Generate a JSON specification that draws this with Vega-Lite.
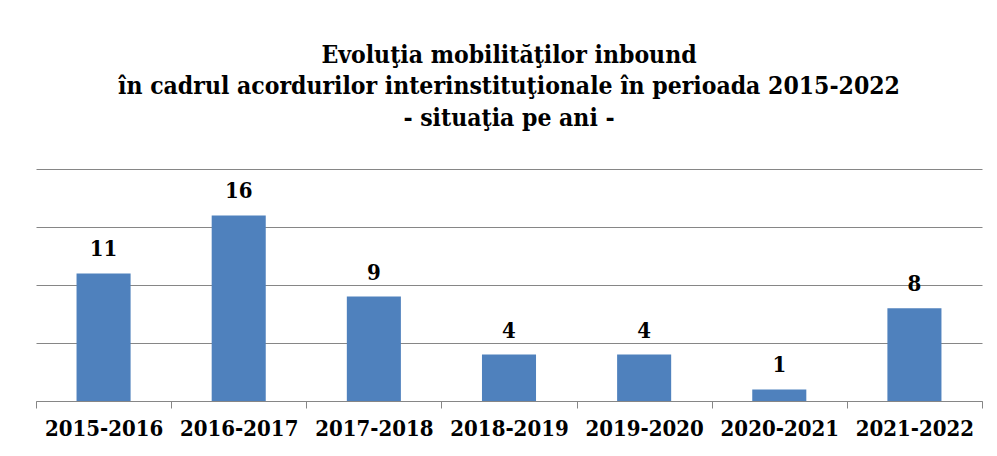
{
  "$schema": "https://vega.github.io/schema/vega-lite/v6.json",
  "autosize": "none",
  "width": 946,
  "height": 232,
  "padding": {"left": 36, "top": 169, "right": 15, "bottom": 55},
  "background": "white",
  "title": {
    "text": ["Evoluţia mobilităţilor inbound", "în cadrul acordurilor interinstituţionale în perioada 2015-2022", "- situaţia pe ani -"],
    "font": "DejaVu Serif Condensed",
    "fontSize": 24.5,
    "fontWeight": "bold",
    "color": "black",
    "lineHeight": 31.5,
    "anchor": "middle",
    "offset": 38
  },
  "data": {
    "values": [
      {"an": "2015-2016", "valoare": 11},
      {"an": "2016-2017", "valoare": 16},
      {"an": "2017-2018", "valoare": 9},
      {"an": "2018-2019", "valoare": 4},
      {"an": "2019-2020", "valoare": 4},
      {"an": "2020-2021", "valoare": 1},
      {"an": "2021-2022", "valoare": 8}
    ]
  },
  "encoding": {
    "x": {
      "field": "an",
      "type": "nominal",
      "sort": null,
      "scale": {"paddingInner": 0, "paddingOuter": 0},
      "axis": {
        "title": null,
        "labelAngle": 0,
        "labelFont": "DejaVu Serif Condensed",
        "labelFontSize": 22,
        "labelFontWeight": "bold",
        "labelColor": "black",
        "labelPadding": 10,
        "tickBand": "extent",
        "tickSize": 7,
        "tickColor": "#868686",
        "domainColor": "#868686",
        "domainWidth": 1,
        "grid": false
      }
    },
    "y": {
      "field": "valoare",
      "type": "quantitative",
      "scale": {"domain": [0, 20], "nice": false},
      "axis": {
        "title": null,
        "values": [0, 5, 10, 15, 20],
        "labels": false,
        "ticks": false,
        "domain": false,
        "grid": true,
        "gridColor": "#868686",
        "gridWidth": 1,
        "gridOpacity": 1
      }
    }
  },
  "layer": [
    {
      "mark": {"type": "bar", "color": "#4F81BD", "width": {"band": 0.4}}
    },
    {
      "mark": {
        "type": "text",
        "font": "DejaVu Serif Condensed",
        "fontSize": 22,
        "fontWeight": "bold",
        "color": "black",
        "baseline": "alphabetic",
        "dy": -17
      },
      "encoding": {"text": {"field": "valoare", "type": "quantitative"}}
    }
  ],
  "config": {"view": {"stroke": null}}
}
